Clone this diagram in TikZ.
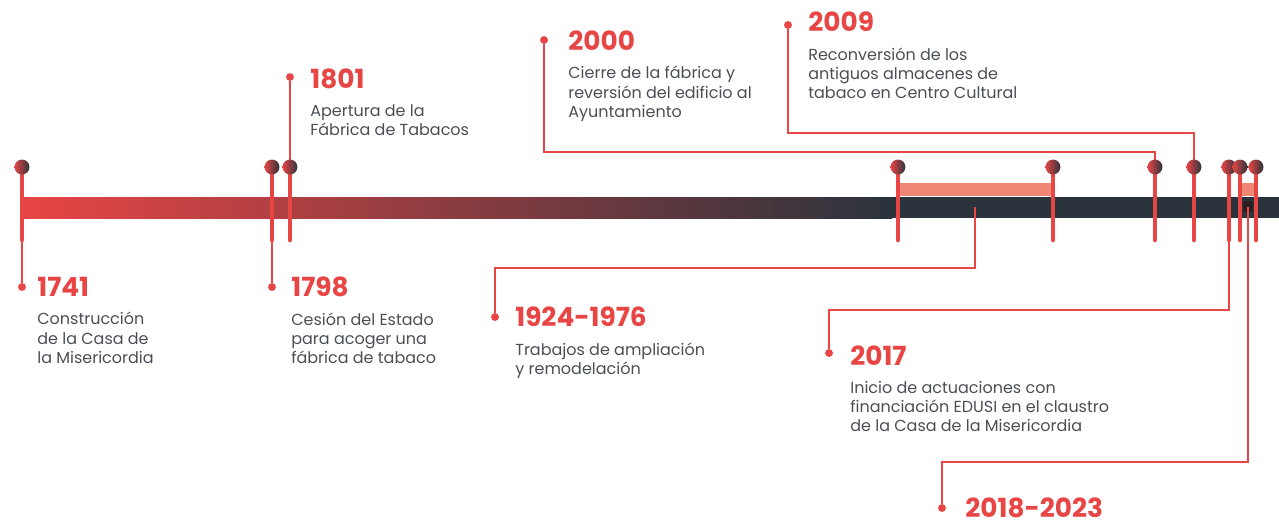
\documentclass[tikz,border=0pt]{standalone}
\usepackage{fontspec}
\setmainfont{Poppins}
\usetikzlibrary{positioning}

\definecolor{tlred}{HTML}{E84545}
\definecolor{tldark}{HTML}{2B333C}
\definecolor{tlsalmon}{HTML}{F08676}
\definecolor{tlgray}{HTML}{4A4F56}
\definecolor{tlblack}{HTML}{2A1E20}

\tikzset{
  year/.style={anchor=west, inner sep=0pt, text=tlred, font=\bfseries\fontsize{15}{18}\selectfont},
  desc/.style={inner sep=0pt, text=tlgray, align=left, font=\fontsize{9.1}{10.9}\selectfont},
  stem/.style={draw=tlred, line width=2.6pt, line cap=round},
  link/.style={draw=tlred, line width=0.8pt},
  dot/.style={circle, fill=tlred, inner sep=0pt, minimum size=4.5pt},
  head/.style={circle, inner sep=0pt, minimum size=8.5pt, left color=tlred, right color=tldark},
}

\begin{document}
\begin{tikzpicture}[x=0.02cm,y=-0.02cm]
  \useasboundingbox (0,0) rectangle (1279,524);

  % dots and labels
  \node[dot] (d1741) at (22,287) {};
  \node[year] (y1741) at (37,287) {1741};
  \node[desc, below=8.5pt of y1741.south west, anchor=north west] {Construcción\\de la Casa de\\la Misericordia};

  \node[dot] (d1798) at (272,287) {};
  \node[year] (y1798) at (291,287) {1798};
  \node[desc, below=8.5pt of y1798.south west, anchor=north west] {Cesión del Estado\\para acoger una\\fábrica de tabaco};

  \node[dot] (d1801) at (290,77) {};
  \node[year] (y1801) at (310,79) {1801};
  \node[desc, below=8.5pt of y1801.south west, anchor=north west] {Apertura de la\\Fábrica de Tabacos};

  \node[dot] (d2000) at (544,40) {};
  \node[year] (y2000) at (568,41) {2000};
  \node[desc, below=8.5pt of y2000.south west, anchor=north west] {Cierre de la fábrica y\\reversión del edificio al\\Ayuntamiento};

  \node[dot] (d2009) at (788,25) {};
  \node[year] (y2009) at (808,22) {2009};
  \node[desc, below=8.5pt of y2009.south west, anchor=north west] {Reconversión de los\\antiguos almacenes de\\tabaco en Centro Cultural};

  \node[dot] (d1924) at (495,317) {};
  \node[year] (y1924) at (515,317) {1924-1976};
  \node[desc, below=8.5pt of y1924.south west, anchor=north west] {Trabajos de ampliación\\y remodelación};

  \node[dot] (d2017) at (829,353) {};
  \node[year] (y2017) at (850,356) {2017};
  \node[desc, below=8.5pt of y2017.south west, anchor=north west] {Inicio de actuaciones con\\financiación EDUSI en el claustro\\de la Casa de la Misericordia};

  \node[dot] (d2018) at (942,508) {};
  \node[year] (y2018) at (965,508) {2018-2023};

  % the bar
  \shade[left color=tlred, right color=tldark] (22,197) rectangle (892,218);
  \fill[tldark] (891,197) rectangle (1279,218);
  \fill[tlsalmon] (898,183) rectangle (1053,196);
  \fill[tlsalmon] (1240,183) rectangle (1256,196);
  \fill[tlblack] (1243,201) rectangle (1253,212);

  \foreach \px/\nm in {22/1741, 272/1798, 290/1801, 898/1924, 1053/1976,
                       1155/2000, 1194/2009, 1229/2017, 1240/2018, 1256/2023} {
    \coordinate (t\nm) at (\px,167);
    \coordinate (s\nm) at (\px,240);
  }

  % links
  \coordinate (m1924) at (975,207);
  \coordinate (k1924) at (975,268);
  \coordinate (k2000) at (1155,152);
  \coordinate (k2009) at (1194,133);
  \coordinate (k2017) at (1229,310);
  \coordinate (m2018) at (1248,207);
  \coordinate (k2018) at (1248,462);
  \draw[link] (s1741) -- (d1741);
  \draw[link] (s1798) -- (d1798);
  \draw[link] (t1801) -- (d1801);
  \draw[link] (m1924) -- (k1924) -| (d1924);
  \draw[link] (t2000) -- (k2000) -| (d2000);
  \draw[link] (t2009) -- (k2009) -| (d2009);
  \draw[link] (s2017) -- (k2017) -| (d2017);
  \draw[link] (m2018) -- (k2018) -| (d2018);

  % pins
  \foreach \nm in {1741,1798,1801,1924,1976,2000,2009,2017,2018,2023}
    \draw[stem] (t\nm) -- (s\nm);
  \foreach \nm in {1741,1798,1801,1924,1976,2000,2009,2017,2018,2023}
    \node[head] (h\nm) at (t\nm) {};
\end{tikzpicture}
\end{document}
